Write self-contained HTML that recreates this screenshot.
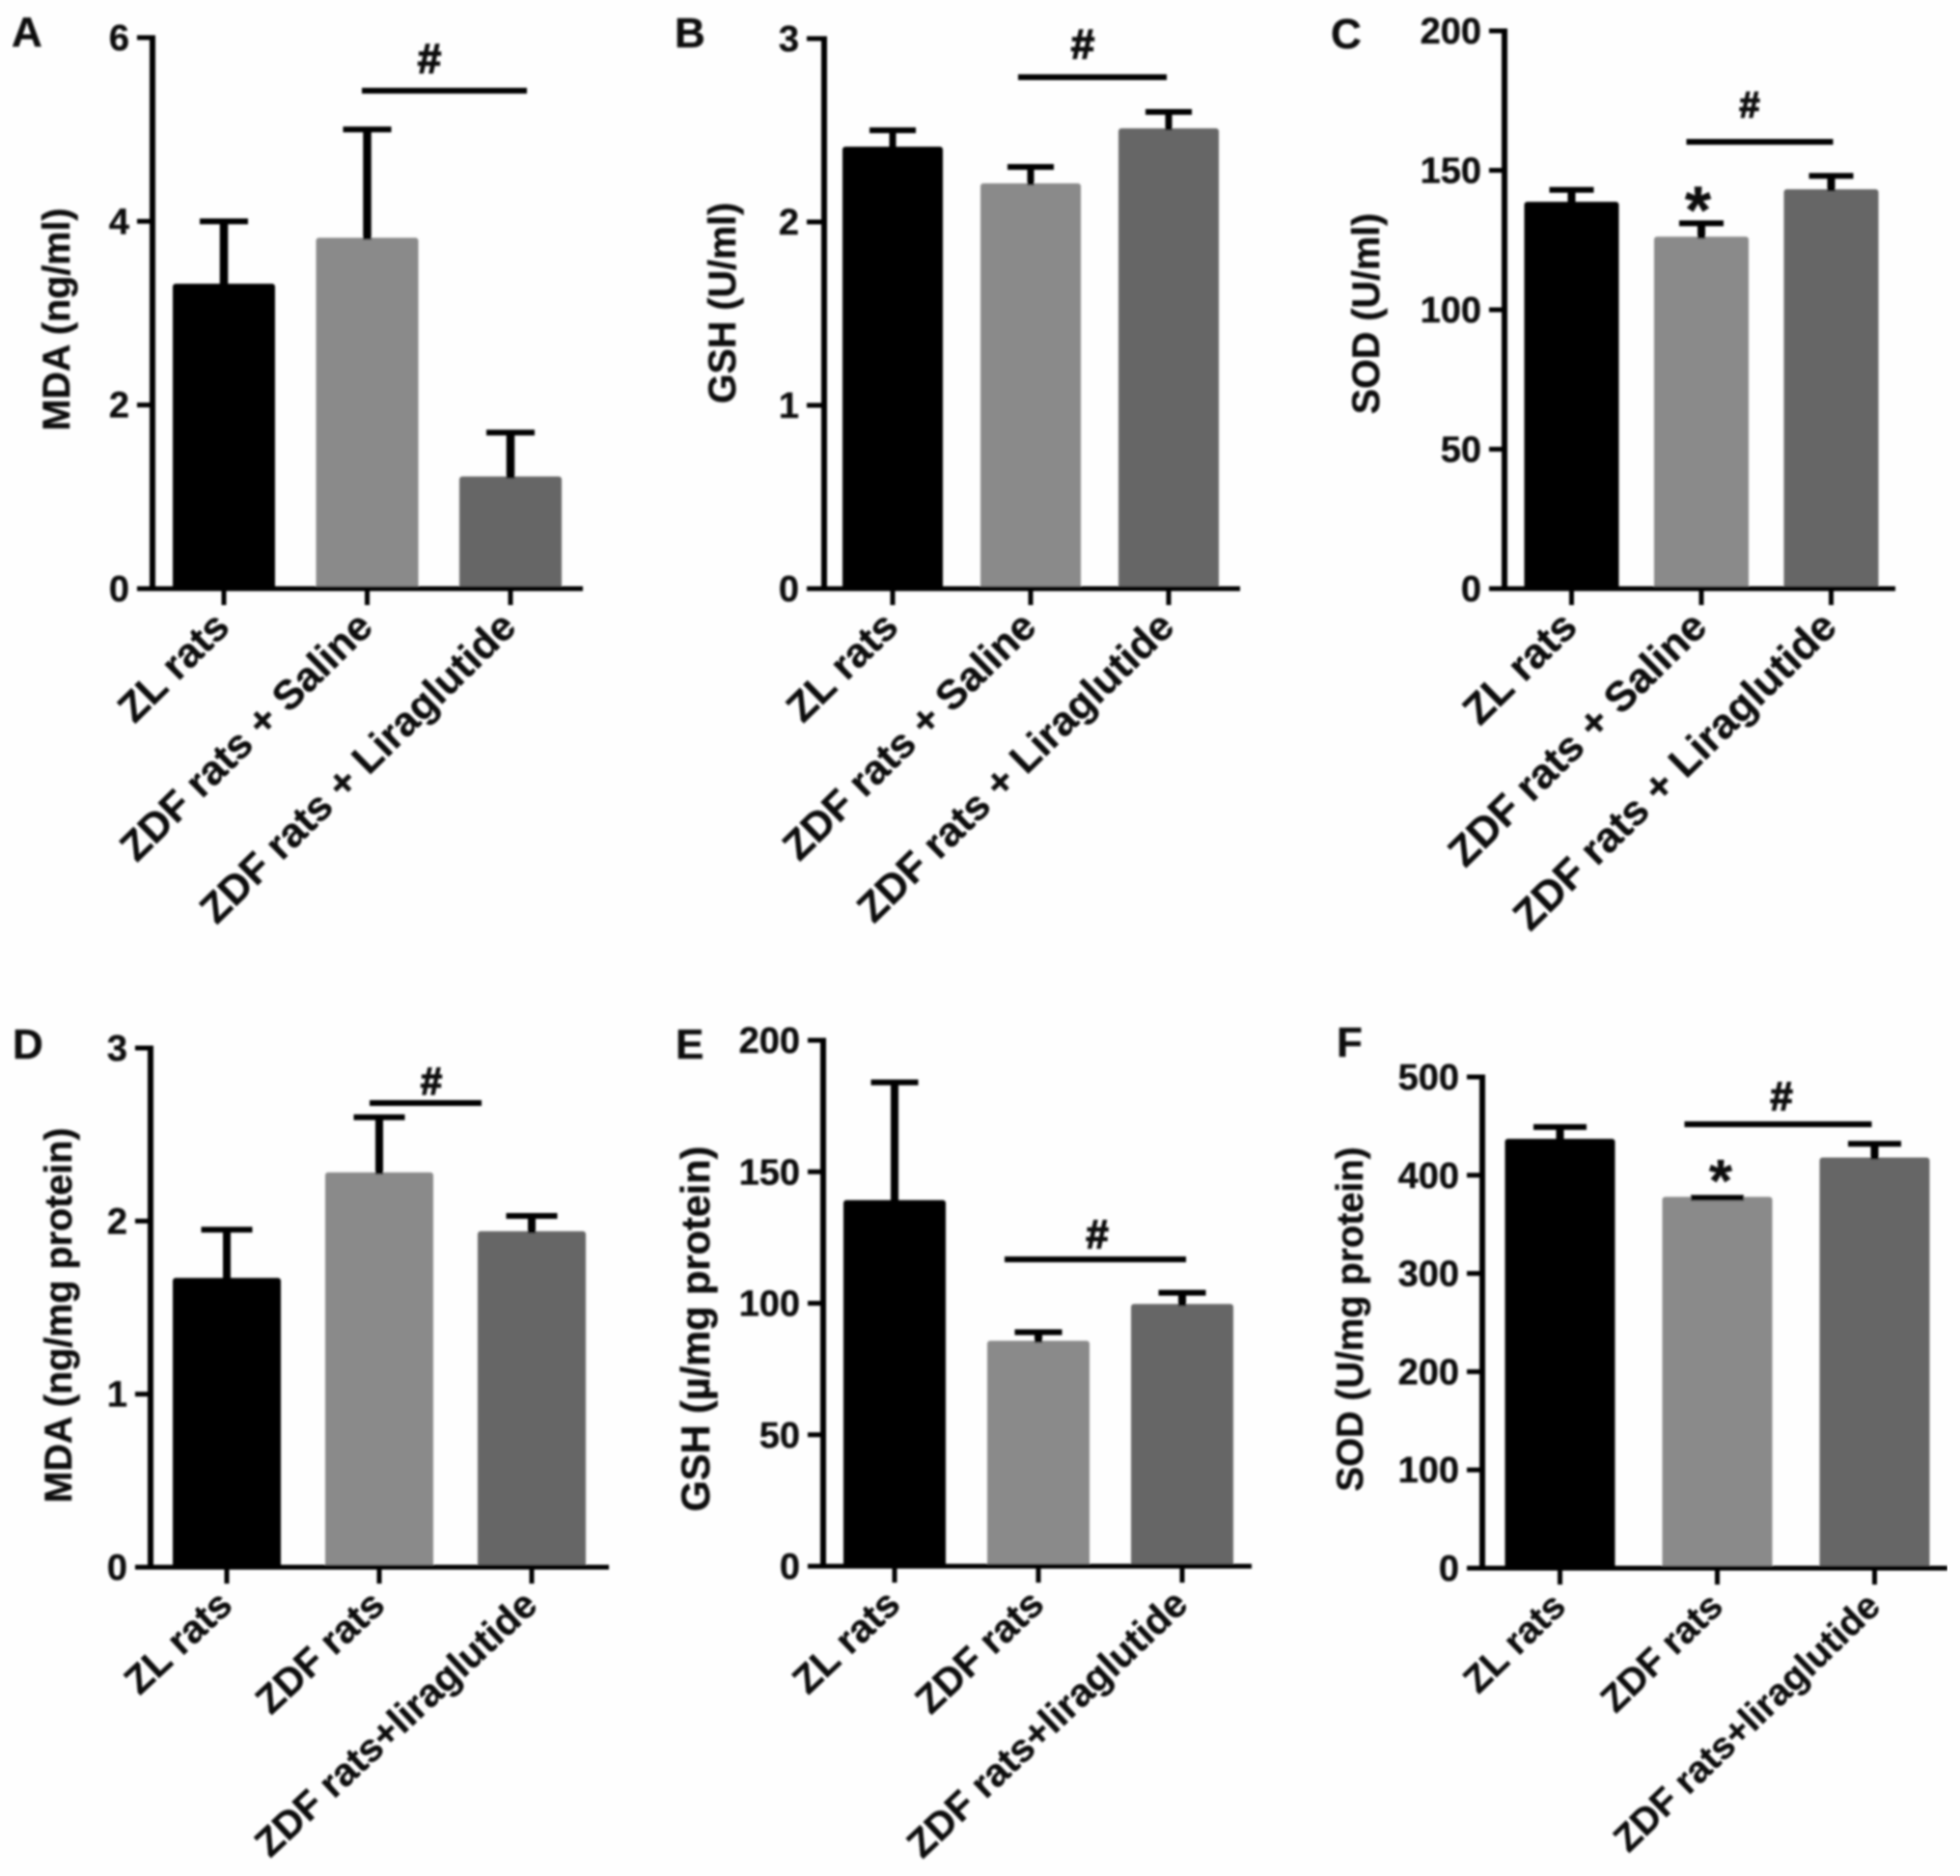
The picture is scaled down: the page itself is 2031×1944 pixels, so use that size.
<!DOCTYPE html>
<html lang="en">
<head>
<meta charset="utf-8">
<title>Liraglutide oxidative stress bar charts</title>
<style>
html,body{margin:0;padding:0;background:#fefefe;}
svg{display:block;}
text{font-family:"Liberation Sans",Arial,sans-serif;font-weight:bold;fill:#111;stroke:#111;stroke-width:0.35px;}
</style>
</head>
<body>
<svg id="figure" xmlns="http://www.w3.org/2000/svg" width="2031" height="1944" viewBox="0 0 2031 1944">
<defs><filter id="soft" x="0" y="0" width="100%" height="100%"><feGaussianBlur stdDeviation="1"/></filter></defs>
<rect x="0" y="0" width="2031" height="1944" fill="#fefefe"/>
<g id="root" filter="url(#soft)"></g>
</svg>
<script>
// ---- chart data ----
const categoriesSaline = ["ZL rats", "ZDF rats + Saline", "ZDF rats + Liraglutide"];
const categoriesPlain = ["ZL rats", "ZDF rats", "ZDF rats+liraglutide"];

const aTicks = [0, 2, 4, 6];
const aMeans = [3.3, 3.8, 1.2];
const aErrorTops = [4.0, 5.0, 1.7];

const bTicks = [0, 1, 2, 3];
const bMeans = [2.4, 2.2, 2.5];
const bErrorTops = [2.5, 2.3, 2.6];

const cTicks = [0, 50, 100, 150, 200];
const cMeans = [138, 125.5, 142.5];
const cErrorTops = [143, 131, 148];

const dTicks = [0, 1, 2, 3];
const dMeans = [1.66, 2.27, 1.93];
const dErrorTops = [1.95, 2.6, 2.03];

const eTicks = [0, 50, 100, 150, 200];
const eMeans = [138.5, 85, 99];
const eErrorTops = [184, 89, 104];

const fTicks = [0, 100, 200, 300, 400, 500];
const fMeans = [435, 376, 416];
const fErrorTops = [449, 377, 432];

const barColors = ["#000000", "#8a8a8a", "#666666"];

// ---- drawing ----
const NS = "http://www.w3.org/2000/svg";
const root = document.getElementById("root");

function make(tag, attrs, parent) {
  const el = document.createElementNS(NS, tag);
  for (const k in attrs) el.setAttribute(k, attrs[k]);
  parent.appendChild(el);
  return el;
}

function drawPanel(p) {
  const g = make("g", {}, root);
  
  

  const yScale = v => p.y0 - (v / p.ticks[p.ticks.length - 1]) * (p.y0 - p.yTop);
  const xScale = i => p.firstCenter + i * p.step;

  // bars (outlined in their own colour, as in the prism-style source)
  p.means.forEach((v, i) => {
    const top = yScale(v);
    const bar = make("rect", {x: xScale(i) - p.barWidth / 2 + 2, y: top, width: p.barWidth - 4, height: p.y0 - top, rx: 1, fill: barColors[i], stroke: barColors[i], "stroke-width": 4}, g);
    
    
  });

  // error bars
  p.errorTops.forEach((v, i) => {
    const top = yScale(v);
    const bot = yScale(p.means[i]);
    const stem = make("line", {x1: xScale(i), x2: xScale(i), y1: top, y2: bot, stroke: "#000", "stroke-width": p.stem}, g);
    
    
    const cap = make("line", {x1: xScale(i) - p.cap / 2, x2: xScale(i) + p.cap / 2, y1: top, y2: top, stroke: "#000", "stroke-width": 6}, g);
    
    
  });

  // y axis
  const yAxis = make("line", {x1: p.x0, x2: p.x0, y1: p.yTop - 2.5, y2: p.y0 + 2.5, stroke: "#000", "stroke-width": 6}, g);
  
  

  p.ticks.forEach(v => {
    const y = yScale(v);
    const tick = make("line", {x1: p.xLeft, x2: p.x0, y1: y, y2: y, stroke: "#000", "stroke-width": 5}, g);
    
    
    const lab = make("text", {x: p.xLeft - 8, y: y + 13, "text-anchor": "end", "font-size": 38}, g);
    lab.textContent = String(v);
    
    
  });

  // x axis
  const xAxis = make("line", {x1: p.xLeft, x2: p.xRight, y1: p.y0, y2: p.y0, stroke: "#000", "stroke-width": 5}, g);
  
  

  p.categories.forEach((c, i) => {
    const x = xScale(i);
    const tick = make("line", {x1: x, x2: x, y1: p.y0, y2: p.y0 + 17, stroke: "#000", "stroke-width": 5}, g);
    
    
    const lab = make("text", {transform: "translate(" + (x + 8) + "," + (p.y0 + 42) + ") rotate(" + p.labelAngle + ")", "text-anchor": "end", "font-size": p.labelFont}, g);
    lab.textContent = c;
    
    
  });

  // axis title
  const title = make("text", {transform: "translate(" + p.titleX + "," + p.titleY + ") rotate(-90)", "text-anchor": "middle", "font-size": p.titleFont}, g);
  title.textContent = p.title;
  
  

  // panel letter
  const letter = make("text", {x: p.letterX, y: p.letterY, "font-size": 44}, g);
  letter.textContent = p.letter;
  
  

  // significance bar
  const sig = make("line", {x1: p.sig[0], x2: p.sig[1], y1: p.sig[2], y2: p.sig[2], stroke: "#000", "stroke-width": 6}, g);
  
  
  const hash = make("text", {x: p.hash[0], y: p.hash[1] + p.hash[2] * 0.35, "text-anchor": "middle", "font-size": p.hash[2], style: "stroke-width:1.4px"}, g);
  hash.textContent = "#";
  
  

  if (p.star) {
    const star = make("text", {x: p.star[0], y: p.star[1] + p.star[2] * 0.55, "text-anchor": "middle", "font-size": p.star[2]}, g);
    star.textContent = "*";
    
    
  }
}

drawPanel({id: "a", letter: "A", title: "MDA (ng/ml)", categories: categoriesSaline, ticks: aTicks, means: aMeans, errorTops: aErrorTops,
  x0: 158, yTop: 39, y0: 610, xLeft: 142, xRight: 604, firstCenter: 232, step: 148.5, barWidth: 106, stem: 8.5, cap: 50,
  labelFont: 42.5, labelAngle: -44.5, titleFont: 39.5,
  titleX: 72, titleY: 331, letterX: 12, letterY: 48, sig: [375, 546, 94], hash: [445, 60, 44]});

drawPanel({id: "b", letter: "B", title: "GSH (U/ml)", categories: categoriesSaline, ticks: bTicks, means: bMeans, errorTops: bErrorTops,
  x0: 854, yTop: 40, y0: 610, xLeft: 836, xRight: 1285, firstCenter: 925, step: 143, barWidth: 104, stem: 7, cap: 48,
  labelFont: 42.5, labelAngle: -44.3, titleFont: 39.5,
  titleX: 762, titleY: 314, letterX: 699, letterY: 49, sig: [1055, 1209, 80], hash: [1122, 45, 44]});

drawPanel({id: "c", letter: "C", title: "SOD (U/ml)", categories: categoriesSaline, ticks: cTicks, means: cMeans, errorTops: cErrorTops,
  x0: 1559, yTop: 32, y0: 610, xLeft: 1543, xRight: 1964, firstCenter: 1628.5, step: 134.5, barWidth: 98, stem: 8, cap: 46,
  labelFont: 43.5, labelAngle: -44.5, titleFont: 39.5,
  titleX: 1429, titleY: 325, letterX: 1379, letterY: 50, sig: [1747.5, 1899.5, 147], hash: [1813, 108, 38], star: [1759.5, 203, 70]});

drawPanel({id: "d", letter: "D", title: "MDA (ng/mg protein)", categories: categoriesPlain, ticks: dTicks, means: dMeans, errorTops: dErrorTops,
  x0: 156, yTop: 1086, y0: 1624, xLeft: 140, xRight: 631, firstCenter: 235, step: 158, barWidth: 112, stem: 8, cap: 53,
  labelFont: 40.5, labelAngle: -43, titleFont: 39.5,
  titleX: 74, titleY: 1363, letterX: 13, letterY: 1097, sig: [383, 499, 1143], hash: [447, 1120, 40]});

drawPanel({id: "e", letter: "E", title: "GSH (µ/mg protein)", categories: categoriesPlain, ticks: eTicks, means: eMeans, errorTops: eErrorTops,
  x0: 853, yTop: 1078, y0: 1623, xLeft: 837, xRight: 1297, firstCenter: 927, step: 149, barWidth: 106, stem: 8, cap: 49,
  labelFont: 40.5, labelAngle: -43.4, titleFont: 41.5,
  titleX: 735, titleY: 1377, letterX: 700, letterY: 1097, sig: [1041, 1229, 1305], hash: [1137, 1279, 42]});

drawPanel({id: "f", letter: "F", title: "SOD (U/mg protein)", categories: categoriesPlain, ticks: fTicks, means: fMeans, errorTops: fErrorTops,
  x0: 1536, yTop: 1116, y0: 1625, xLeft: 1520, xRight: 2018, firstCenter: 1616.5, step: 163, barWidth: 114, stem: 8, cap: 55,
  labelFont: 38.8, labelAngle: -44, titleFont: 38.5,
  titleX: 1412, titleY: 1367, letterX: 1385, letterY: 1095, sig: [1745.5, 1939.5, 1165], hash: [1846, 1136, 42], star: [1783, 1211, 62]});
</script>
</body>
</html>
